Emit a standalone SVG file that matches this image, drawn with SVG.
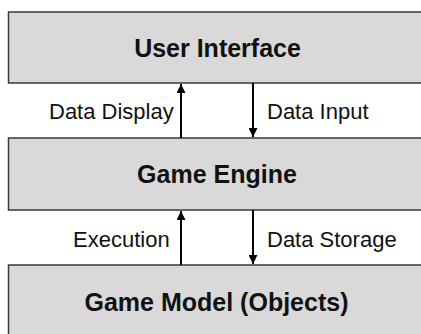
<svg xmlns="http://www.w3.org/2000/svg" width="421" height="334" viewBox="0 0 421 334">
<style>
.box{fill:#d9d9d9;stroke:#3a3a3a;stroke-width:1.5}
.title{font-family:"Liberation Sans",Arial,sans-serif;font-weight:bold;font-size:25px;fill:#111;text-anchor:middle}
.lbl{font-family:"Liberation Sans",Arial,sans-serif;font-size:22px;fill:#111}
.conn{stroke:#000;stroke-width:2;fill:none}
</style>
<defs>
<marker id="ah" viewBox="0 0 10 10" refX="10" refY="5" markerWidth="10" markerHeight="9" markerUnits="userSpaceOnUse" orient="auto">
<path d="M0,0 L10,5 L0,10 Z" fill="#000"/>
</marker>
</defs>
<rect width="421" height="334" fill="#fff"/>
<g id="user-interface">
<rect class="box" x="8.5" y="12" width="420" height="71"/>
<text class="title" x="217.5" y="57">User Interface</text>
</g>
<g id="game-engine">
<rect class="box" x="8.5" y="138" width="420" height="72"/>
<text class="title" x="217" y="183">Game Engine</text>
</g>
<g id="game-model">
<rect class="box" x="8.5" y="265" width="420" height="80"/>
<text class="title" x="216.5" y="311">Game Model (Objects)</text>
</g>
<g id="connectors">
<line class="conn" x1="181" y1="138" x2="181" y2="84" marker-end="url(#ah)"/>
<line class="conn" x1="253" y1="83" x2="253" y2="137" marker-end="url(#ah)"/>
<line class="conn" x1="181" y1="265" x2="181" y2="211" marker-end="url(#ah)"/>
<line class="conn" x1="253" y1="210" x2="253" y2="264" marker-end="url(#ah)"/>
<text class="lbl" x="49" y="119">Data Display</text>
<text class="lbl" x="267" y="119">Data Input</text>
<text class="lbl" x="73" y="247">Execution</text>
<text class="lbl" x="267" y="247">Data Storage</text>
</g>
</svg>
